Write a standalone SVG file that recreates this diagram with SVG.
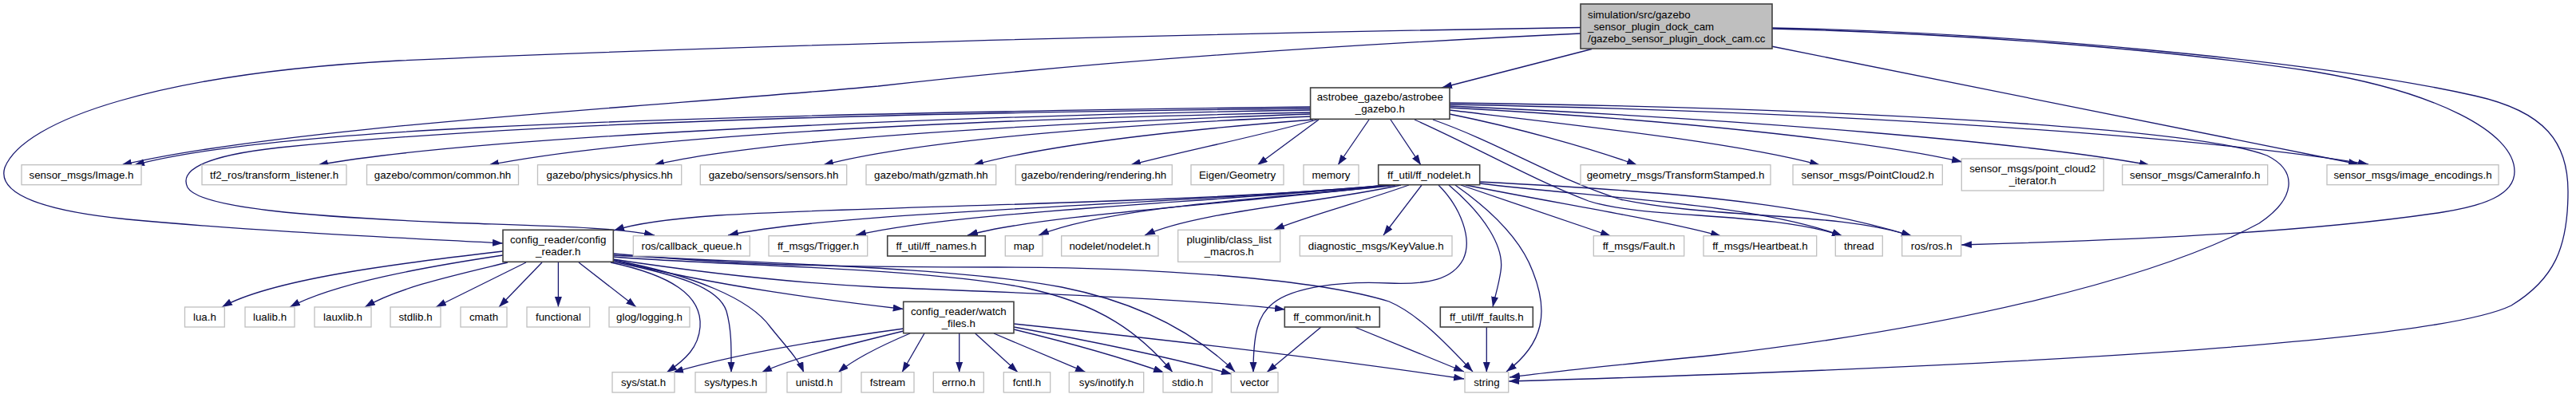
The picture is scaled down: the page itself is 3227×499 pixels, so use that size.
<svg xmlns="http://www.w3.org/2000/svg" width="3227" height="499" viewBox="0 0 3227 499">
<defs>
<marker id="a" markerUnits="userSpaceOnUse" markerWidth="14" markerHeight="10" refX="13" refY="4.5" orient="auto"><path d="M0,0 L13,4.5 L0,9 z" fill="#191970"/></marker>
<style>
rect{fill:#fff;stroke:#bfbfbf;stroke-width:1.3}
.d rect{stroke:#404040;stroke-width:1.6}
.m rect{fill:#bfbfbf;stroke:#404040;stroke-width:1.6}
text{font-family:"Liberation Sans",Arial,sans-serif;font-size:13.3px;text-anchor:middle;fill:#000}
.m text{text-anchor:start}
#edges path{fill:none;stroke:#191970;stroke-width:1.3;marker-end:url(#a)}
</style>
</defs>
<rect x="0" y="0" width="3227" height="499" style="fill:#fff;stroke:none"/>
<g id="edges">
<!-- main -->
<path d="M1994,61.5 L1806,110"/>
<path d="M1980,34.5 C1500,42 900,58 500,76 C200,92 30,150 6,210 C-5,245 60,265 160,275 C320,290 500,298 630,305"/>
<path d="M1980,42 C1600,60 1300,85 1100,108 C800,135 350,160 152,207"/>
<path d="M2219,58 L2955,206"/>
<path d="M2220,36 C2450,42 2700,60 2900,90 C3050,115 3150,165 3150,215 C3150,245 3110,258 3060,266 C2900,290 2700,300 2457,307"/>
<path d="M2220,35 C2500,40 2900,75 3100,120 C3190,140 3217,180 3217,240 C3217,310 3200,350 3146,383 C3050,430 2500,460 1890,478"/>
<!-- astrobee_gazebo -->
<path d="M1642,134 C1300,138 900,145 600,160 C400,170 250,185 168,207"/>
<path d="M1642,136 C1200,141 700,150 350,185 C250,196 225,215 235,235 C250,262 400,272 560,279 C700,284 770,285 820,295"/>
<path d="M1642,138 C1200,145 600,170 398,207"/>
<path d="M1642,141 C1200,150 800,170 612,207"/>
<path d="M1642,143 C1300,155 950,175 819,207"/>
<path d="M1642,146 C1400,156 1150,176 1031,207"/>
<path d="M1645,150 C1450,165 1300,185 1219,207"/>
<path d="M1650,150 C1580,170 1480,190 1416,207"/>
<path d="M1652,150 L1575,207"/>
<path d="M1715,150 L1676,207"/>
<path d="M1742,150 L1780,207"/>
<path d="M1772,150 C1850,185 1920,225 1990,252 C2060,275 2220,265 2308,296"/>
<path d="M1795,150 C1880,180 1950,225 2030,250 C2150,275 2300,265 2395,296"/>
<path d="M1816,143 C1900,160 1990,185 2051,207"/>
<path d="M1816,138 C2000,160 2180,180 2280,207"/>
<path d="M1816,135 C2100,150 2350,178 2458,203"/>
<path d="M1816,133 C2200,150 2550,180 2693,207"/>
<path d="M1816,131 C2300,140 2750,170 2967,206"/>
<path d="M1816,129 C2300,135 2750,160 2840,195 C2880,215 2875,250 2830,280 C2700,350 2450,410 2150,445 C2050,455 1950,465 1891,473"/>
<!-- ff_nodelet -->
<path d="M1738,232 C1500,255 1100,258 900,270 C830,275 790,282 769,289"/>
<path d="M1740,232 C1450,258 1050,265 912,295"/>
<path d="M1742,232 C1500,255 1200,265 1072,295"/>
<path d="M1745,232 C1550,255 1300,270 1212,295"/>
<path d="M1748,232 C1650,245 1400,255 1301,295"/>
<path d="M1755,232 C1650,255 1500,265 1434,295"/>
<path d="M1765,232 C1700,255 1640,270 1596,288"/>
<path d="M1781,232 L1733,295"/>
<path d="M1802,232 C1830,260 1845,300 1833,325 C1820,350 1790,357 1740,355 C1680,352 1620,360 1595,380 C1575,395 1570,420 1570,467"/>
<path d="M1815,232 C1860,270 1885,310 1880,340 C1877,360 1873,370 1870,385"/>
<path d="M1823,232 C1870,265 1905,300 1920,340 C1940,390 1935,430 1887,466"/>
<path d="M1830,232 L2018,296"/>
<path d="M1836,232 C1950,255 2080,275 2156,296"/>
<path d="M1854,230 C2000,248 2200,255 2308,296"/>
<path d="M1854,228 C2050,238 2250,250 2395,296"/>
<!-- config_reader -->
<path d="M630,315 C500,330 340,350 278,385"/>
<path d="M630,320 C530,335 420,355 363,385"/>
<path d="M636,329 C570,345 500,360 457,385"/>
<path d="M659,329 L546,385"/>
<path d="M679,329 L625,385"/>
<path d="M699.4,329 L699.4,385"/>
<path d="M725,329 L797,385"/>
<path d="M765,329 C840,345 880,370 877,410 C875,435 860,450 835,467"/>
<path d="M768,328 C850,345 900,360 910,390 C917,415 916,440 916,467"/>
<path d="M768,326 C870,345 940,375 965,410 C985,435 1000,450 1007,467"/>
<path d="M768,326 C900,360 1050,378 1131.7,387.5"/>
<path d="M768,325 C900,345 1000,355 1100,360 C1300,368 1500,375 1610,388"/>
<path d="M768,322 C900,333 1150,335 1280,360 C1380,380 1430,420 1469,466.7"/>
<path d="M768,320 C950,330 1200,335 1330,360 C1430,380 1500,420 1547,466"/>
<path d="M768,318 C900,330 1000,335 1250,335 C1450,335 1650,350 1740,378 C1780,395 1820,440 1845,466"/>
<!-- watch_files -->
<path d="M1132,412 C1000,430 900,450 843,467"/>
<path d="M1132,415 C1050,435 990,450 954,467"/>
<path d="M1140,418 C1100,435 1070,450 1050,467"/>
<path d="M1158,418 L1130,466.7"/>
<path d="M1201.7,418 L1201.7,466.7"/>
<path d="M1221.7,418 L1275,466.7"/>
<path d="M1245,418 L1360,466.7"/>
<path d="M1270,413 C1340,430 1410,450 1458,467"/>
<path d="M1270,410 C1380,430 1480,452 1543,469"/>
<path d="M1270,406 C1500,430 1700,455 1834,475"/>
<!-- init, faults -->
<path d="M1655,410 L1587,466.7"/>
<path d="M1697,410 L1834,466"/>
<path d="M1862.3,410 L1862.3,466.7"/>
</g>
<g id="n_main" class="m"><rect x="1980" y="5" width="240" height="56"/><text x="1989" y="22.5">simulation/src/gazebo</text><text x="1989" y="37.5">_sensor_plugin_dock_cam</text><text x="1989" y="52.5">/gazebo_sensor_plugin_dock_cam.cc</text></g>
<g id="n_astrobee" class="d"><rect x="1641.6" y="110" width="174.4" height="39.3"/><text x="1728.8" y="126">astrobee_gazebo/astrobee</text><text x="1728.8" y="141">_gazebo.h</text></g>
<g id="n_image"><rect x="27" y="206.7" width="150" height="25"/><text x="102" y="223.5">sensor_msgs/Image.h</text></g>
<g id="n_tf2"><rect x="253" y="206.7" width="181" height="25"/><text x="343.5" y="223.5">tf2_ros/transform_listener.h</text></g>
<g id="n_common"><rect x="459.5" y="206.7" width="190" height="25"/><text x="554.5" y="223.5">gazebo/common/common.hh</text></g>
<g id="n_physics"><rect x="673.5" y="206.7" width="180.2" height="25"/><text x="763.6" y="223.5">gazebo/physics/physics.hh</text></g>
<g id="n_sensors"><rect x="877.3" y="206.7" width="183.4" height="25"/><text x="969" y="223.5">gazebo/sensors/sensors.hh</text></g>
<g id="n_gzmath"><rect x="1085" y="206.7" width="162.7" height="25"/><text x="1166.4" y="223.5">gazebo/math/gzmath.hh</text></g>
<g id="n_rendering"><rect x="1272.3" y="206.7" width="196" height="25"/><text x="1370.3" y="223.5">gazebo/rendering/rendering.hh</text></g>
<g id="n_eigen"><rect x="1492" y="206.7" width="116" height="25"/><text x="1550" y="223.5">Eigen/Geometry</text></g>
<g id="n_memory"><rect x="1633" y="206.7" width="69" height="25"/><text x="1667.5" y="223.5">memory</text></g>
<g id="n_ffnodelet" class="d"><rect x="1726.7" y="206.7" width="127" height="25"/><text x="1790.2" y="223.5">ff_util/ff_nodelet.h</text></g>
<g id="n_transform"><rect x="1980" y="206.7" width="238" height="25"/><text x="2099" y="223.5">geometry_msgs/TransformStamped.h</text></g>
<g id="n_pc2"><rect x="2246" y="206.7" width="187.3" height="25"/><text x="2339.7" y="223.5">sensor_msgs/PointCloud2.h</text></g>
<g id="n_pc2iter"><rect x="2457.3" y="199" width="178" height="40"/><text x="2546.3" y="215.5">sensor_msgs/point_cloud2</text><text x="2546.3" y="230.5">_iterator.h</text></g>
<g id="n_caminfo"><rect x="2658.7" y="206.7" width="182" height="25"/><text x="2749.7" y="223.5">sensor_msgs/CameraInfo.h</text></g>
<g id="n_imgenc"><rect x="2915" y="206.7" width="215" height="25"/><text x="3022.5" y="223.5">sensor_msgs/image_encodings.h</text></g>
<g id="n_config" class="d"><rect x="630" y="288.3" width="138.3" height="40"/><text x="699.2" y="304.8">config_reader/config</text><text x="699.2" y="319.8">_reader.h</text></g>
<g id="n_cbq"><rect x="793.3" y="295.7" width="146" height="25.3"/><text x="866.3" y="312.7">ros/callback_queue.h</text></g>
<g id="n_trigger"><rect x="963" y="295.7" width="123.7" height="25.3"/><text x="1024.9" y="312.7">ff_msgs/Trigger.h</text></g>
<g id="n_ffnames" class="d"><rect x="1111.7" y="295.7" width="122.6" height="25.3"/><text x="1173" y="312.7">ff_util/ff_names.h</text></g>
<g id="n_map"><rect x="1259.3" y="295.7" width="46.7" height="25.3"/><text x="1282.7" y="312.7">map</text></g>
<g id="n_nodelet"><rect x="1329.7" y="295.7" width="121.3" height="25.3"/><text x="1390.4" y="312.7">nodelet/nodelet.h</text></g>
<g id="n_pluginlib"><rect x="1475.7" y="288.3" width="128" height="40"/><text x="1539.7" y="304.8">pluginlib/class_list</text><text x="1539.7" y="319.8">_macros.h</text></g>
<g id="n_keyvalue"><rect x="1628.3" y="295.7" width="190.7" height="25.3"/><text x="1723.7" y="312.7">diagnostic_msgs/KeyValue.h</text></g>
<g id="n_fault"><rect x="1996.3" y="295.7" width="113.4" height="25.3"/><text x="2053" y="312.7">ff_msgs/Fault.h</text></g>
<g id="n_heartbeat"><rect x="2134" y="295.7" width="141.7" height="25.3"/><text x="2204.9" y="312.7">ff_msgs/Heartbeat.h</text></g>
<g id="n_thread"><rect x="2299.3" y="295.7" width="59" height="25.3"/><text x="2328.8" y="312.7">thread</text></g>
<g id="n_ros"><rect x="2382.7" y="295.7" width="74" height="25.3"/><text x="2419.7" y="312.7">ros/ros.h</text></g>
<g id="n_lua"><rect x="231.5" y="385" width="49.8" height="25"/><text x="256.4" y="401.7">lua.h</text></g>
<g id="n_lualib"><rect x="307" y="385" width="62" height="25"/><text x="338" y="401.7">lualib.h</text></g>
<g id="n_lauxlib"><rect x="394" y="385" width="71" height="25"/><text x="429.5" y="401.7">lauxlib.h</text></g>
<g id="n_stdlib"><rect x="489" y="385" width="63" height="25"/><text x="520.5" y="401.7">stdlib.h</text></g>
<g id="n_cmath"><rect x="577" y="385" width="58" height="25"/><text x="606" y="401.7">cmath</text></g>
<g id="n_functional"><rect x="660" y="385" width="78.7" height="25"/><text x="699.4" y="401.7">functional</text></g>
<g id="n_glog"><rect x="763" y="385" width="101" height="25"/><text x="813.5" y="401.7">glog/logging.h</text></g>
<g id="n_watch" class="d"><rect x="1131.7" y="378.3" width="138.3" height="39.4"/><text x="1200.8" y="394.5">config_reader/watch</text><text x="1200.8" y="409.5">_files.h</text></g>
<g id="n_init" class="d"><rect x="1609.3" y="385" width="119" height="25"/><text x="1668.8" y="401.7">ff_common/init.h</text></g>
<g id="n_faults" class="d"><rect x="1804.3" y="385" width="116" height="25"/><text x="1862.3" y="401.7">ff_util/ff_faults.h</text></g>
<g id="n_sysstat"><rect x="767" y="466.7" width="78" height="25.3"/><text x="806" y="483.5">sys/stat.h</text></g>
<g id="n_systypes"><rect x="871" y="466.7" width="89" height="25.3"/><text x="915.5" y="483.5">sys/types.h</text></g>
<g id="n_unistd"><rect x="986" y="466.7" width="68" height="25.3"/><text x="1020" y="483.5">unistd.h</text></g>
<g id="n_fstream"><rect x="1079" y="466.7" width="66" height="25.3"/><text x="1112" y="483.5">fstream</text></g>
<g id="n_errno"><rect x="1169.3" y="466.7" width="63" height="25.3"/><text x="1200.8" y="483.5">errno.h</text></g>
<g id="n_fcntl"><rect x="1257.3" y="466.7" width="58.4" height="25.3"/><text x="1286.5" y="483.5">fcntl.h</text></g>
<g id="n_inotify"><rect x="1339.3" y="466.7" width="93.4" height="25.3"/><text x="1386" y="483.5">sys/inotify.h</text></g>
<g id="n_stdio"><rect x="1457" y="466.7" width="61.3" height="25.3"/><text x="1487.7" y="483.5">stdio.h</text></g>
<g id="n_vector"><rect x="1542.3" y="466.7" width="58.7" height="25.3"/><text x="1571.7" y="483.5">vector</text></g>
<g id="n_string"><rect x="1835" y="466.7" width="54.7" height="25.3"/><text x="1862.4" y="483.5">string</text></g>
</svg>
